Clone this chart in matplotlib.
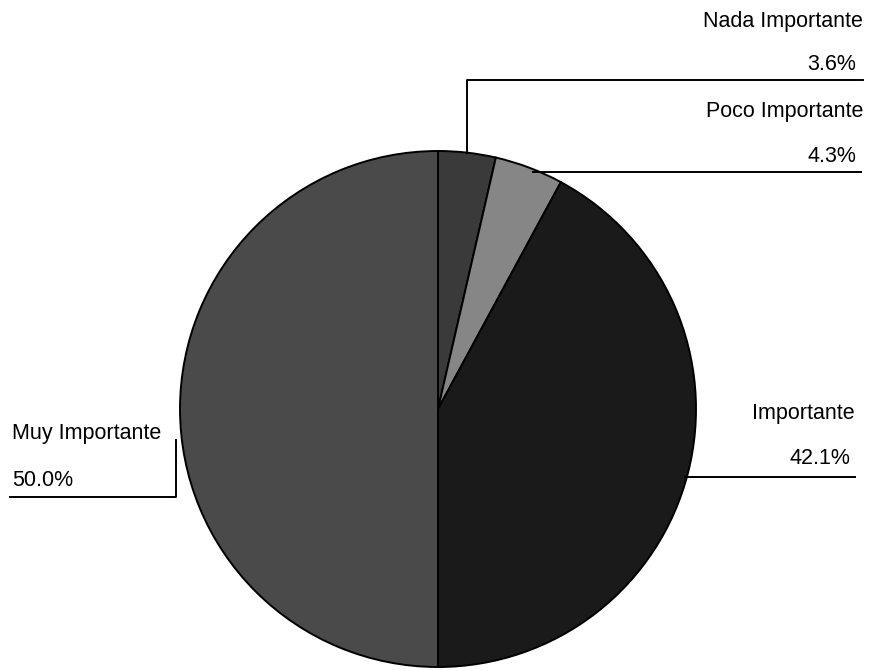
import numpy as np
import matplotlib
matplotlib.use("Agg")
import matplotlib.pyplot as plt

categories = ["Nada Importante", "Poco Importante", "Importante", "Muy Importante"]
values = [3.6, 4.3, 42.1, 50.0]
pct_labels = ["3.6%", "4.3%", "42.1%", "50.0%"]
colors = ["#3a3a3a", "#868686", "#1a1a1a", "#4a4a4a"]

plt.rcParams['font.family'] = ['Liberation Sans', 'DejaVu Sans']

W, H = 869, 671
fig = plt.figure(figsize=(W / 100, H / 100), dpi=100)
ax = fig.add_axes([0, 0, 1, 1])

cx, cy, r = 438, 409, 258
wedges, _ = ax.pie(values, colors=colors, startangle=-90, counterclock=True,
                   center=(cx, cy), radius=r,
                   wedgeprops=dict(edgecolor="black", linewidth=1.4))
ax.set_xlim(0, W)
ax.set_ylim(H, 0)
ax.set_aspect('auto')
ax.axis('off')

def anchor(w):
    t = np.deg2rad((w.theta1 + w.theta2) / 2)
    return cx + r * np.cos(t), cy + r * np.sin(t)

fs = 15.5
lc = dict(color="black", linewidth=1.4)

# Nada Importante
ax0, ay0 = anchor(wedges[0])
ax.plot([ax0, ax0, 863], [ay0, 80, 80], **lc)
ax.text(863, 22, categories[0], ha='right', va='center', fontsize=fs)
ax.text(856, 65, pct_labels[0], ha='right', va='center', fontsize=fs)

# Poco Importante
ax1, ay1 = anchor(wedges[1])
ax.plot([ax1 + 4, 861], [172, 172], **lc)
ax.text(863, 112, categories[1], ha='right', va='center', fontsize=fs)
ax.text(856, 157, pct_labels[1], ha='right', va='center', fontsize=fs)

# Importante
ax2, ay2 = anchor(wedges[2])
ax.plot([ax2 - 3, 855], [477, 477], **lc)
ax.text(855, 413, categories[2], ha='right', va='center', fontsize=fs)
ax.text(850, 459, pct_labels[2], ha='right', va='center', fontsize=fs)

# Muy Importante
ax3, ay3 = anchor(wedges[3])
ax.plot([10, 176, 176], [497, 497, 440], **lc)
ax.text(12, 434, categories[3], ha='left', va='center', fontsize=fs)
ax.text(12, 480, pct_labels[3], ha='left', va='center', fontsize=fs)

fig.savefig("out.png", dpi=100, facecolor="white")
